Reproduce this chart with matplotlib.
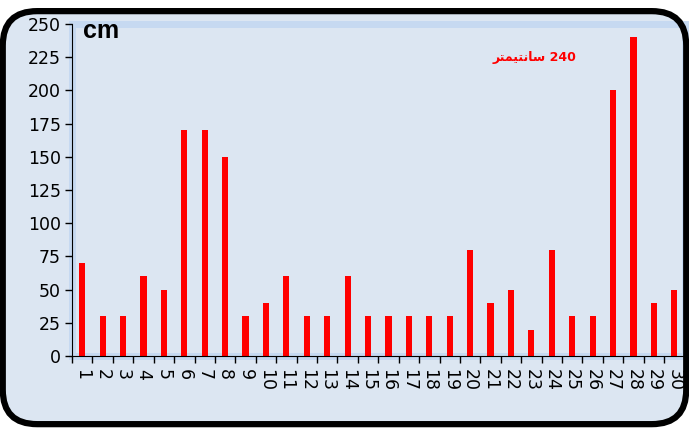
import matplotlib.pyplot as plt
from matplotlib.patches import FancyBboxPatch, Rectangle
import numpy as np

# data
days = [str(i) for i in range(1, 31)]
heights = [70, 30, 30, 60, 50, 170, 170, 150, 30, 40,
           60, 30, 30, 60, 30, 30, 30, 30, 30, 80,
           40, 50, 20, 80, 30, 30, 200, 240, 40, 50]
y_ticks = [0, 25, 50, 75, 100, 125, 150, 175, 200, 225, 250]

# "240 سانتيمتر" written in shaped visual order (no bidi support in matplotlib)
note = "\uFEAE\uFE98\uFEE4\uFEF4\uFE98\uFEE7\uFE8E\uFEB3 240"

plt.rcParams['font.family'] = ['Liberation Sans', 'DejaVu Sans']

fig = plt.figure(figsize=(6.89, 4.28), dpi=100)

# rounded outer frame: fill behind, black edge on top
box = dict(boxstyle="round,pad=0,rounding_size=0.05",
           transform=fig.transFigure, mutation_aspect=689 / 428)
back = FancyBboxPatch((0.004, 0.009), 0.992, 0.965, facecolor='#dce6f2',
                      edgecolor='none', zorder=-5, **box)
edge = FancyBboxPatch((0.004, 0.009), 0.992, 0.965, facecolor='none',
                      edgecolor='black', linewidth=4.5, zorder=10, **box)
fig.patches.append(back)
fig.patches.append(edge)

ax = fig.add_axes([0.1045, 0.168, 0.889, 0.776])
ax.set_zorder(2)
ax.set_facecolor('#dce6f2')

x = np.arange(len(days))
ax.bar(x, heights, width=0.3, color='#ff0000', zorder=3)

ax.set_xlim(-0.5, len(days) - 0.5)
ax.set_ylim(0, 250)
ax.set_yticks(y_ticks)
ax.set_yticklabels([str(v) for v in y_ticks], fontsize=12.5, family='DejaVu Sans')
ax.set_xticks(x)
ax.set_xticklabels(days, rotation=270, fontsize=12.5, va='top', ha='center',
                   family='DejaVu Sans')
ax.set_xticks(np.arange(len(days) + 1) - 0.5, minor=True)
ax.tick_params(axis='x', which='major', length=0, pad=9)
ax.tick_params(axis='x', which='minor', length=5, width=1)
ax.tick_params(axis='y', length=5, width=1, pad=3)

for s in ['top', 'right']:
    ax.spines[s].set_visible(False)
ax.spines['left'].set_zorder(5)
ax.spines['bottom'].set_zorder(5)

# light blue wall edge
ax.add_patch(Rectangle((0, 0), 1, 1, transform=ax.transAxes, fill=False,
                       edgecolor='#c6d9f1', linewidth=5, clip_on=False, zorder=1))

ax.text(0.018, 1.015, 'cm', transform=ax.transAxes, fontsize=18,
        fontweight='bold', va='top', ha='left')
ax.text(0.823, 0.9, note, transform=ax.transAxes, fontsize=9,
        fontweight='bold', color='#ff0000', va='center', ha='right',
        family='DejaVu Sans')

fig.savefig('out.png', dpi=100)
